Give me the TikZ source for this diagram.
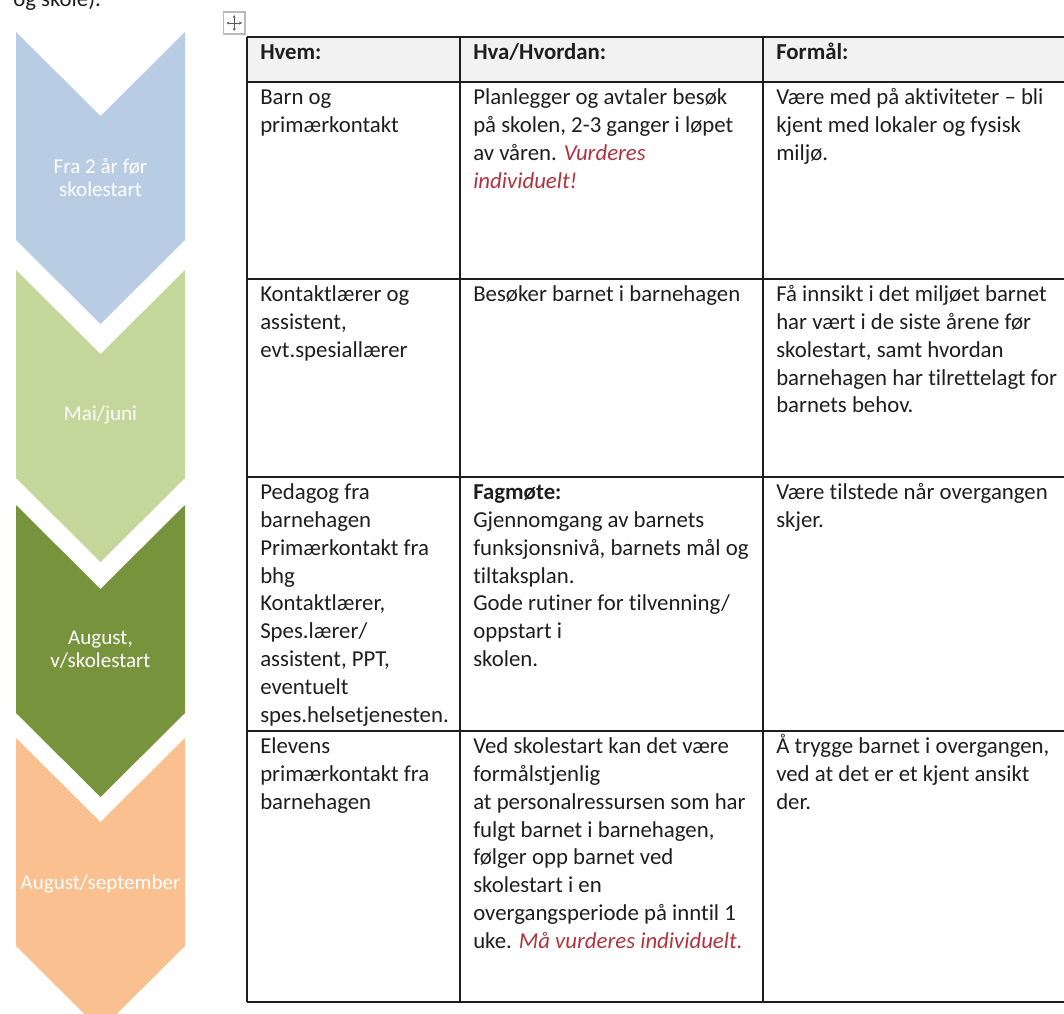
\documentclass[tikz,border=0pt]{standalone}
\usepackage{fontspec}
\setmainfont{Carlito}[RawFeature={-liga;-clig;-calt;-dlig}]
\usetikzlibrary{arrows.meta}
\definecolor{ink}{HTML}{1E1E1E}
\definecolor{redtxt}{RGB}{176,52,62}
\definecolor{cblue}{HTML}{B8CCE4}
\definecolor{cgreen}{HTML}{C4D79B}
\definecolor{cdark}{HTML}{77933C}
\definecolor{corange}{HTML}{FAC090}
\definecolor{hdr}{HTML}{F2F2F2}
\newcommand\tabfont{\fontsize{17.1}{20.85}\selectfont}
\newcommand\chevfont{\fontsize{15.8}{17.25}\selectfont}
\newcommand\rd[1]{{\color{redtxt}\itshape #1}}
\tikzset{
  cell/.style={anchor=north west, inner sep=0pt, align=left, font=\tabfont, text=ink},
  chevlabel/.style={align=center, inner sep=0pt, font=\chevfont, text=white},
  tline/.style={draw=ink, line width=1.1pt},
  movearrow/.style={draw=gray!70!black, line width=0.6pt, -{Stealth[length=2.2pt,width=2.2pt]}}
}
\begin{document}
\begin{tikzpicture}[x=0.75pt,y=-0.75pt]
\useasboundingbox (0,0) rectangle (1064,1014);
\begin{scope}
\clip (0,0) rectangle (1064,1014);
% chevrons
\fill[cblue] (16,32) -- (100.5,116) -- (185,32) -- (185,240) -- (100.5,324) -- (16,240) -- cycle;
\fill[cgreen] (16,270) -- (100.5,354) -- (185,270) -- (185,478) -- (100.5,562) -- (16,478) -- cycle;
\fill[cdark] (16,505) -- (100.5,589) -- (185,505) -- (185,713) -- (100.5,797) -- (16,713) -- cycle;
\fill[corange] (16,738) -- (100.5,822) -- (185,738) -- (185,946) -- (100.5,1030) -- (16,946) -- cycle;
\node[chevlabel] (c1) at (100.5,178) {Fra 2 år før\\skolestart};
\node[chevlabel] (c2) at (100.5,415) {Mai/juni};
\node[chevlabel] (c3) at (100.5,650) {August,\\v/skolestart};
\node[chevlabel] (c4) at (100.5,884) {August/september};
% cut-off text at the top (as in the reference)
\node[anchor=base west, inner sep=0pt, font=\tabfont, text=ink] (toptext) at (13,6) {og skole).};
% header fill
\fill[hdr] (247,37) rectangle (1064,82);
% table lines
\draw[tline] (247,37) -- (1064,37);
\draw[tline] (247,82) -- (1064,82);
\draw[tline] (247,279) -- (1064,279);
\draw[tline] (247,477) -- (1064,477);
\draw[tline] (247,731) -- (1064,731);
\draw[tline] (247,1002) -- (1064,1002);
\draw[tline] (247,37) -- (247,1002);
\draw[tline] (460,37) -- (460,1002);
\draw[tline] (763,37) -- (763,1002);
\end{scope}
% move handle icon
\draw[draw=gray!55, line width=0.8pt, fill=white] (223.5,12) rectangle (245,34);
\draw[movearrow] (234.2,23) -- (234.2,15);
\draw[movearrow] (234.2,23) -- (234.2,31);
\draw[movearrow] (234.2,23) -- (226.5,23);
\draw[movearrow] (234.2,23) -- (242,23);
% header
\node[cell] (h1) at (260,40) {\strut\textbf{Hvem:}};
\node[cell] (h2) at (473,40) {\strut\textbf{Hva/Hvordan:}};
\node[cell] (h3) at (776,40) {\strut\textbf{Formål:}};
% row 1
\node[cell] (r1a) at (260,85) {\strut Barn og\\primærkontakt};
\node[cell] (r1b) at (473,85) {\strut Planlegger og avtaler besøk\\på skolen, 2-3 ganger i løpet\\av våren. \rd{Vurderes}\\\rd{individuelt!}};
\node[cell] (r1c) at (776,85) {\strut Være med på aktiviteter – bli\\kjent med lokaler og fysisk\\miljø.};
% row 2
\node[cell] (r2a) at (260,282) {\strut Kontaktlærer og\\assistent,\\evt.spesiallærer};
\node[cell] (r2b) at (473,282) {\strut Besøker barnet i barnehagen};
\node[cell] (r2c) at (776,282) {\strut Få innsikt i det miljøet barnet\\har vært i de siste årene før\\skolestart, samt hvordan\\barnehagen har tilrettelagt for\\barnets behov.};
% row 3
\node[cell] (r3a) at (260,480) {\strut Pedagog fra\\barnehagen\\Primærkontakt fra\\bhg\\Kontaktlærer,\\Spes.lærer/\\assistent, PPT,\\eventuelt\\spes.helsetjenesten.};
\node[cell] (r3b) at (473,480) {\strut\textbf{Fagmøte:}\\Gjennomgang av barnets\\funksjonsnivå, barnets mål og\\tiltaksplan.\\Gode rutiner for tilvenning/\\oppstart i\\skolen.};
\node[cell] (r3c) at (776,480) {\strut Være tilstede når overgangen\\skjer.};
% row 4
\node[cell] (r4a) at (260,734) {\strut Elevens\\primærkontakt fra\\barnehagen};
\node[cell] (r4b) at (473,734) {\strut Ved skolestart kan det være\\formålstjenlig\\at personalressursen som har\\fulgt barnet i barnehagen,\\følger opp barnet ved\\skolestart i en\\overgangsperiode på inntil 1\\uke. \rd{Må vurderes individuelt.}};
\node[cell] (r4c) at (776,734) {\strut Å trygge barnet i overgangen,\\ved at det er et kjent ansikt\\der.};
\end{tikzpicture}
\end{document}
